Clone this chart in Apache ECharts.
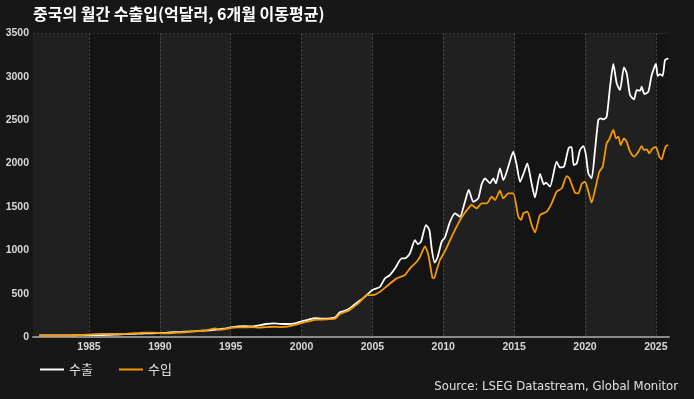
<!DOCTYPE html>
<html>
<head>
<meta charset="utf-8">
<script src="https://cdn.jsdelivr.net/npm/echarts@6/dist/echarts.min.js"></script>
<style>
  html, body { margin: 0; padding: 0; background: #171717; }
  #chart { width: 694px; height: 399px; }
</style>
</head>
<body>
<div id="chart"></div>
<script>
// 수출 (6개월 이동평균, 억달러) - 시점은 소수 연도
const exportDates = [
  1981.5, 1982.0, 1982.5, 1983.0, 1983.5, 1984.0, 1984.5, 1985.0, 1985.5, 1986.0,
  1986.5, 1987.0, 1987.5, 1988.0, 1988.5, 1989.0, 1989.5, 1990.0, 1990.5, 1991.0,
  1991.5, 1992.0, 1992.5, 1993.0, 1993.5, 1994.0, 1994.5, 1995.0, 1995.5, 1996.0,
  1996.5, 1997.0, 1997.5, 1998.0, 1998.5, 1999.0, 1999.54, 2000.0, 2000.5, 2000.95,
  2001.5, 2002.0, 2002.36, 2002.71, 2003.0, 2003.3, 2003.7, 2004.0, 2004.3, 2004.6,
  2005.0, 2005.3, 2005.54, 2005.89, 2006.24, 2006.6, 2007.07, 2007.3, 2007.65, 2008.0,
  2008.2, 2008.43, 2008.78, 2009.02, 2009.2, 2009.4, 2009.6, 2009.89, 2010.12, 2010.48,
  2010.83, 2011.18, 2011.53, 2011.8, 2012.12, 2012.47, 2012.71, 2012.95, 2013.3, 2013.53,
  2013.72, 2014.0, 2014.24, 2014.59, 2014.94, 2015.18, 2015.42, 2015.7, 2015.93, 2016.2,
  2016.47, 2016.83, 2017.1, 2017.25, 2017.53, 2018.0, 2018.24, 2018.52, 2018.85, 2019.06,
  2019.2, 2019.42, 2019.65, 2019.88, 2020.07, 2020.24, 2020.47, 2020.71, 2020.94, 2021.11,
  2021.3, 2021.53, 2021.77, 2022.0, 2022.24, 2022.47, 2022.75, 2022.95, 2023.18, 2023.46,
  2023.65, 2023.89, 2024.0, 2024.19, 2024.47, 2024.71, 2025.01, 2025.13, 2025.29, 2025.48,
  2025.65, 2025.88
];
const exportValues = [
  18, 19, 18, 19, 19, 20, 21, 22, 21, 22,
  25, 28, 32, 36, 38, 42, 43, 46, 50, 55,
  58, 63, 67, 72, 76, 85, 95, 110, 122, 125,
  122, 135, 150, 158, 152, 150, 158, 180, 200, 218,
  212, 215, 225, 285, 300, 319, 370, 407, 440, 484,
  542, 560, 580, 676, 715, 792, 907, 907, 965, 1118,
  1072, 1099, 1291, 1234, 1000, 857, 920, 1100, 1150, 1330,
  1426, 1387, 1560, 1695, 1560, 1599, 1760, 1830, 1772, 1830,
  1772, 1945, 1810, 1964, 2137, 1983, 1790, 1900, 2003, 1800,
  1610, 1880, 1760, 1780, 1733, 2021, 1955, 1964, 2180, 2190,
  1983, 2003, 2156, 2202, 2098, 1887, 1830, 2156, 2502, 2522,
  2510, 2540, 2886, 3148, 2925, 2848, 3110, 3040, 2790, 2740,
  2848, 2840, 2886, 2802, 2828, 3021, 3148, 3010, 3032, 3010,
  3194, 3213
];

// 수입
const importDates = [
  1981.5, 1982.0, 1982.5, 1983.0, 1983.5, 1984.0, 1984.5, 1985.0, 1985.5, 1986.0,
  1986.5, 1987.0, 1987.5, 1988.0, 1988.5, 1989.0, 1989.5, 1990.0, 1990.5, 1991.0,
  1991.5, 1992.0, 1992.5, 1993.0, 1993.5, 1993.9, 1994.2, 1994.6, 1995.0, 1995.5,
  1996.0, 1996.5, 1997.0, 1997.5, 1998.0, 1998.5, 1999.0, 1999.54, 2000.0, 2000.5,
  2000.95, 2001.5, 2002.0, 2002.36, 2002.71, 2003.0, 2003.3, 2003.7, 2004.0, 2004.3,
  2004.6, 2005.0, 2005.54, 2006.12, 2006.71, 2007.3, 2007.65, 2008.12, 2008.36, 2008.71,
  2008.95, 2009.23, 2009.35, 2009.54, 2009.77, 2010.12, 2010.48, 2011.06, 2011.41, 2011.77,
  2012.0, 2012.36, 2012.71, 2013.07, 2013.42, 2013.65, 2014.0, 2014.24, 2014.59, 2014.94,
  2015.3, 2015.5, 2015.65, 2015.93, 2016.24, 2016.47, 2016.83, 2017.3, 2017.65, 2018.0,
  2018.36, 2018.71, 2018.9, 2019.3, 2019.53, 2019.77, 2020.0, 2020.24, 2020.47, 2020.71,
  2021.01, 2021.25, 2021.53, 2021.71, 2022.0, 2022.19, 2022.36, 2022.52, 2022.75, 2022.94,
  2023.18, 2023.46, 2023.77, 2024.0, 2024.16, 2024.38, 2024.52, 2024.78, 2025.01, 2025.24,
  2025.41, 2025.57, 2025.72, 2025.88
];
const importValues = [
  17, 17, 16, 17, 18, 20, 22, 28, 34, 35,
  35, 35, 36, 42, 46, 50, 50, 44, 42, 48,
  52, 58, 65, 72, 85, 100, 85, 92, 105, 110,
  110, 115, 108, 115, 118, 115, 120, 140, 160, 180,
  197, 200, 205, 210, 265, 285, 303, 350, 388, 440,
  484, 484, 523, 600, 676, 715, 792, 868, 926, 1045,
  945, 688, 676, 772, 888, 990, 1118, 1311, 1407, 1484,
  1522, 1484, 1541, 1541, 1618, 1580, 1687, 1599, 1657, 1657,
  1387, 1350, 1426, 1445, 1291, 1205, 1407, 1445, 1541, 1676,
  1714, 1856, 1830, 1664, 1657, 1764, 1791, 1676, 1549, 1695,
  1906, 1964, 2233, 2279, 2387, 2291, 2310, 2214, 2291, 2252,
  2137, 2079, 2137, 2202, 2156, 2164, 2118, 2176, 2190, 2079,
  2049, 2137, 2202, 2214
];

const yTicks = [0, 500, 1000, 1500, 2000, 2500, 3000, 3500];

const pair = (dates, vals) => dates.map((d, i) => [d, vals[i]]);

const labelStyle = {
  color: '#d8d8d8',
  fontSize: 10.5,
  fontWeight: 'bold',
  fontFamily: 'Liberation Sans, Arial, sans-serif'
};

const chart = echarts.init(document.getElementById('chart'));
chart.setOption({
  animation: false,
  backgroundColor: '#171717',
  title: {
    text: '중국의 월간 수출입(억달러, 6개월 이동평균)',
    left: 33,
    top: 6,
    padding: 0,
    textStyle: {
      color: '#ffffff',
      fontSize: 16,
      fontWeight: 'bold',
      fontFamily: 'Noto Sans CJK KR, sans-serif'
    }
  },
  legend: {
    left: 40,
    top: 363,
    padding: 0,
    icon: 'rect',
    itemWidth: 24,
    itemHeight: 2,
    itemGap: 26,
    textStyle: {
      color: '#e0e0e0',
      fontSize: 13,
      fontFamily: 'Noto Sans CJK KR, sans-serif'
    },
    data: ['수출', '수입']
  },
  graphic: [{
    type: 'text',
    right: 16,
    top: 380,
    style: {
      text: 'Source: LSEG Datastream, Global Monitor',
      fill: '#e0e0e0',
      font: '13px "Liberation Sans Narrow", "DejaVu Sans Condensed", sans-serif'
    }
  }],
  grid: { left: 33, right: 25, top: 33.5, bottom: 62 },
  xAxis: {
    type: 'value',
    min: 1981.05,
    max: 2025.93,
    splitNumber: 9,
    axisLine: { show: true, lineStyle: { color: '#8a8a8a', width: 2 } },
    axisTick: { show: false },
    axisLabel: Object.assign({
      margin: 5,
      showMinLabel: false,
      showMaxLabel: false,
      formatter: v => (Math.abs(v % 5) < 1e-6 ? String(v) : '')
    }, labelStyle),
    splitLine: {
      show: true,
      showMinLine: false,
      showMaxLine: false,
      lineStyle: { color: '#4e4e4e', type: [2, 2], width: 1 }
    },
    splitArea: {
      show: true,
      areaStyle: { color: ['#202020', '#141414'] }
    }
  },
  yAxis: {
    type: 'value',
    min: yTicks[0],
    max: yTicks[yTicks.length - 1],
    interval: 500,
    axisLine: { show: false },
    axisTick: { show: false },
    axisLabel: Object.assign({ margin: 4, formatter: v => String(v) }, labelStyle),
    splitLine: {
      lineStyle: { color: '#4e4e4e', type: [2, 2], width: 1 }
    }
  },
  series: [
    {
      name: '수출',
      type: 'line',
      data: pair(exportDates, exportValues),
      showSymbol: false,
      smooth: 0.2,
      color: '#ffffff',
      lineStyle: { color: '#ffffff', width: 1.8 }
    },
    {
      name: '수입',
      type: 'line',
      data: pair(importDates, importValues),
      showSymbol: false,
      smooth: 0.2,
      color: '#f59a00',
      lineStyle: { color: '#f59a00', width: 1.8 }
    }
  ]
});
</script>
</body>
</html>
